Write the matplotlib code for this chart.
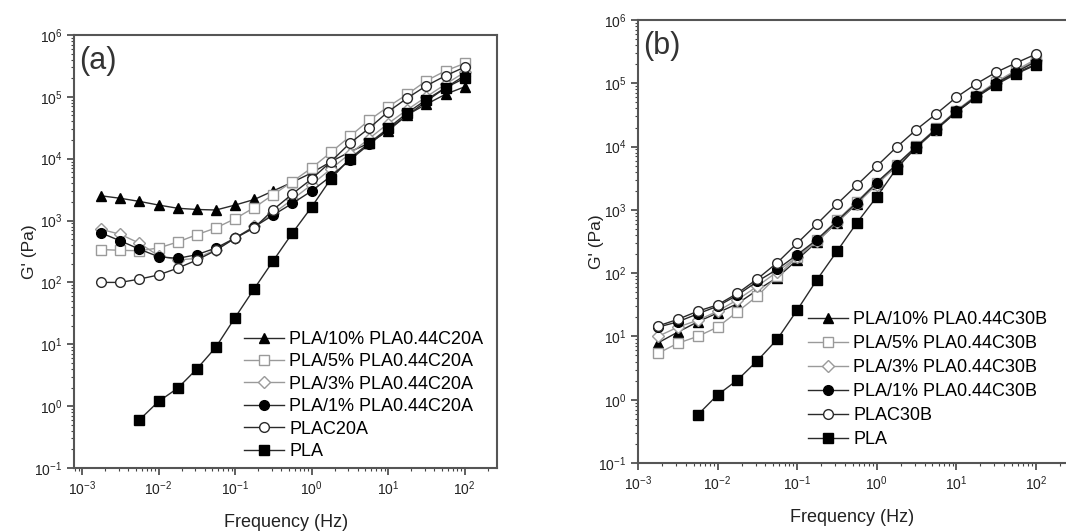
import matplotlib.pyplot as plt
from matplotlib.ticker import LogLocator, NullFormatter

plt.rcParams['font.family'] = ['Liberation Sans', 'DejaVu Sans']
plt.rcParams['mathtext.fontset'] = 'custom'
plt.rcParams['mathtext.rm'] = 'Liberation Sans'

# frequencies (Hz), 4 points per decade
freq = [0.00178, 0.00316, 0.00562, 0.01, 0.0178, 0.0316, 0.0562, 0.1, 0.178, 0.316,
        0.562, 1.0, 1.78, 3.16, 5.62, 10, 17.8, 31.6, 56.2, 100]
freq_pla = freq[2:]

# panel (a) - C20A
a_10 = [2510, 2290, 2040, 1780, 1580, 1510, 1480, 1780, 2190, 3020,
        4170, 5890, 8910, 12900, 17800, 28200, 51300, 75900, 110000, 145000]
a_5 = [340, 330, 325, 360, 450, 590, 760, 1070, 1620, 2630,
       4270, 7080, 12600, 22900, 41700, 69200, 110000, 182000, 263000, 347000]
a_3 = [720, 600, 430, 270, 230, 245, 340, 520, 810, 1300,
       2200, 3800, 6800, 12000, 21000, 37000, 62000, 100000, 160000, 250000]
a_1 = [630, 470, 345, 260, 245, 280, 360, 520, 790, 1230,
       1900, 3000, 5200, 9500, 17000, 30000, 50000, 85000, 140000, 220000]
a_c = [100, 100, 113, 132, 170, 230, 330, 520, 760, 1500,
       2700, 4700, 8900, 17800, 30900, 57500, 95500, 151000, 219000, 302000]
a_pla = [0.60, 1.19, 1.95, 3.98, 9.0, 27, 79, 225, 630, 1650,
         4700, 10000, 17800, 31000, 55000, 90000, 140000, 200000]

# panel (b) - C30B
b_10 = [7.9, 11.7, 17, 23.5, 33, 54, 85, 162, 316, 630,
        1250, 2600, 4900, 9600, 18500, 35000, 60000, 98000, 145000, 200000]
b_5 = [5.4, 7.8, 10, 14, 24.5, 43.5, 90, 180, 340, 680,
       1350, 2700, 5200, 10200, 19500, 37000, 64000, 105000, 160000, 240000]
b_3 = [10, 14, 18, 25, 38, 62, 105, 180, 320, 640,
       1250, 2500, 5000, 9800, 19000, 36000, 62000, 100000, 155000, 230000]
b_1 = [14, 17, 22.7, 30, 45, 74, 115, 195, 340, 660,
       1300, 2700, 5200, 10000, 19000, 36000, 62000, 100000, 150000, 220000]
b_c = [14.6, 18.6, 25, 31.5, 48, 81, 146, 296, 600, 1230,
       2450, 4900, 9800, 18600, 33000, 60000, 98000, 149000, 209000, 288000]
b_pla = [0.575, 1.19, 2.05, 4.13, 9.0, 26, 79, 220, 620, 1600,
         4500, 9800, 19000, 35000, 60000, 95000, 140000, 195000]

labels_a = ['PLA/10% PLA0.44C20A', 'PLA/5% PLA0.44C20A', 'PLA/3% PLA0.44C20A',
            'PLA/1% PLA0.44C20A', 'PLAC20A', 'PLA']
labels_b = ['PLA/10% PLA0.44C30B', 'PLA/5% PLA0.44C30B', 'PLA/3% PLA0.44C30B',
            'PLA/1% PLA0.44C30B', 'PLAC30B', 'PLA']

dark = '#2a2a2a'
grey = '#9a9a9a'
styles = [
    dict(marker='^', color=dark, mfc='black', mec='black'),
    dict(marker='s', color=grey, mfc='white', mec=grey),
    dict(marker='D', color=grey, mfc='white', mec=grey, ms=6),
    dict(marker='o', color=dark, mfc='black', mec='black'),
    dict(marker='o', color=dark, mfc='white', mec=dark),
    dict(marker='s', color=dark, mfc='black', mec='black'),
]


def panel(ax, series, labels, tag, xlim, leg_anchor, leg_space, ypad):
    for i, (x, y) in enumerate(series):
        st = dict(ms=7, lw=1.0, mew=1.0)
        st.update(styles[i])
        ax.plot(x, y, label=labels[i], **st)
    ax.set_xscale('log')
    ax.set_yscale('log')
    ax.set_xlim(*xlim)
    ax.set_ylim(0.1, 1e6)
    ax.xaxis.set_major_locator(LogLocator(base=10, numticks=20))
    ax.xaxis.set_minor_locator(LogLocator(base=10, subs=range(2, 10), numticks=20))
    ax.yaxis.set_major_locator(LogLocator(base=10, numticks=20))
    ax.yaxis.set_minor_locator(LogLocator(base=10, subs=range(2, 10), numticks=20))
    ax.xaxis.set_minor_formatter(NullFormatter())
    ax.yaxis.set_minor_formatter(NullFormatter())
    ax.tick_params(which='major', direction='out', length=5, width=1.2, colors='#444444',
                   labelsize=10, labelcolor='#222222', top=False, right=False)
    ax.tick_params(which='minor', direction='out', length=2.5, width=0.8, colors='#444444',
                   top=False, right=False)
    for s in ax.spines.values():
        s.set_color('#555555')
        s.set_linewidth(1.5)
    ax.set_xlabel('Frequency (Hz)', fontsize=13, color='#222222', labelpad=11)
    ax.set_ylabel("G' (Pa)", fontsize=12.5, color='#222222', labelpad=ypad)
    ax.text(0.012, 0.975, tag, transform=ax.transAxes, fontsize=22, color='#333333',
            va='top', ha='left')
    ax.legend(loc='upper left', bbox_to_anchor=leg_anchor, bbox_transform=ax.figure.transFigure,
              frameon=False, fontsize=13, numpoints=1, handlelength=2.2,
              handletextpad=0.3, labelspacing=leg_space, borderpad=0, borderaxespad=0)


fig = plt.figure(figsize=(10.66, 5.32), dpi=100)
ax1 = fig.add_axes([0.0694, 0.1203, 0.397, 0.814])
ax2 = fig.add_axes([0.5985, 0.1297, 0.4015, 0.8327])

panel(ax1, [(freq, a_10), (freq, a_5), (freq, a_3), (freq, a_1), (freq, a_c), (freq_pla, a_pla)],
      labels_a, '(a)', (10 ** -3.105, 10 ** 2.425), (0.229, 0.378), 0.3, -2)
panel(ax2, [(freq, b_10), (freq, b_5), (freq, b_3), (freq, b_1), (freq, b_c), (freq_pla, b_pla)],
      labels_b, '(b)', (1e-3, 10 ** 2.38), (0.758, 0.415), 0.39, -4)
ax2.spines['right'].set_visible(False)

fig.savefig('out.png', dpi=100)
